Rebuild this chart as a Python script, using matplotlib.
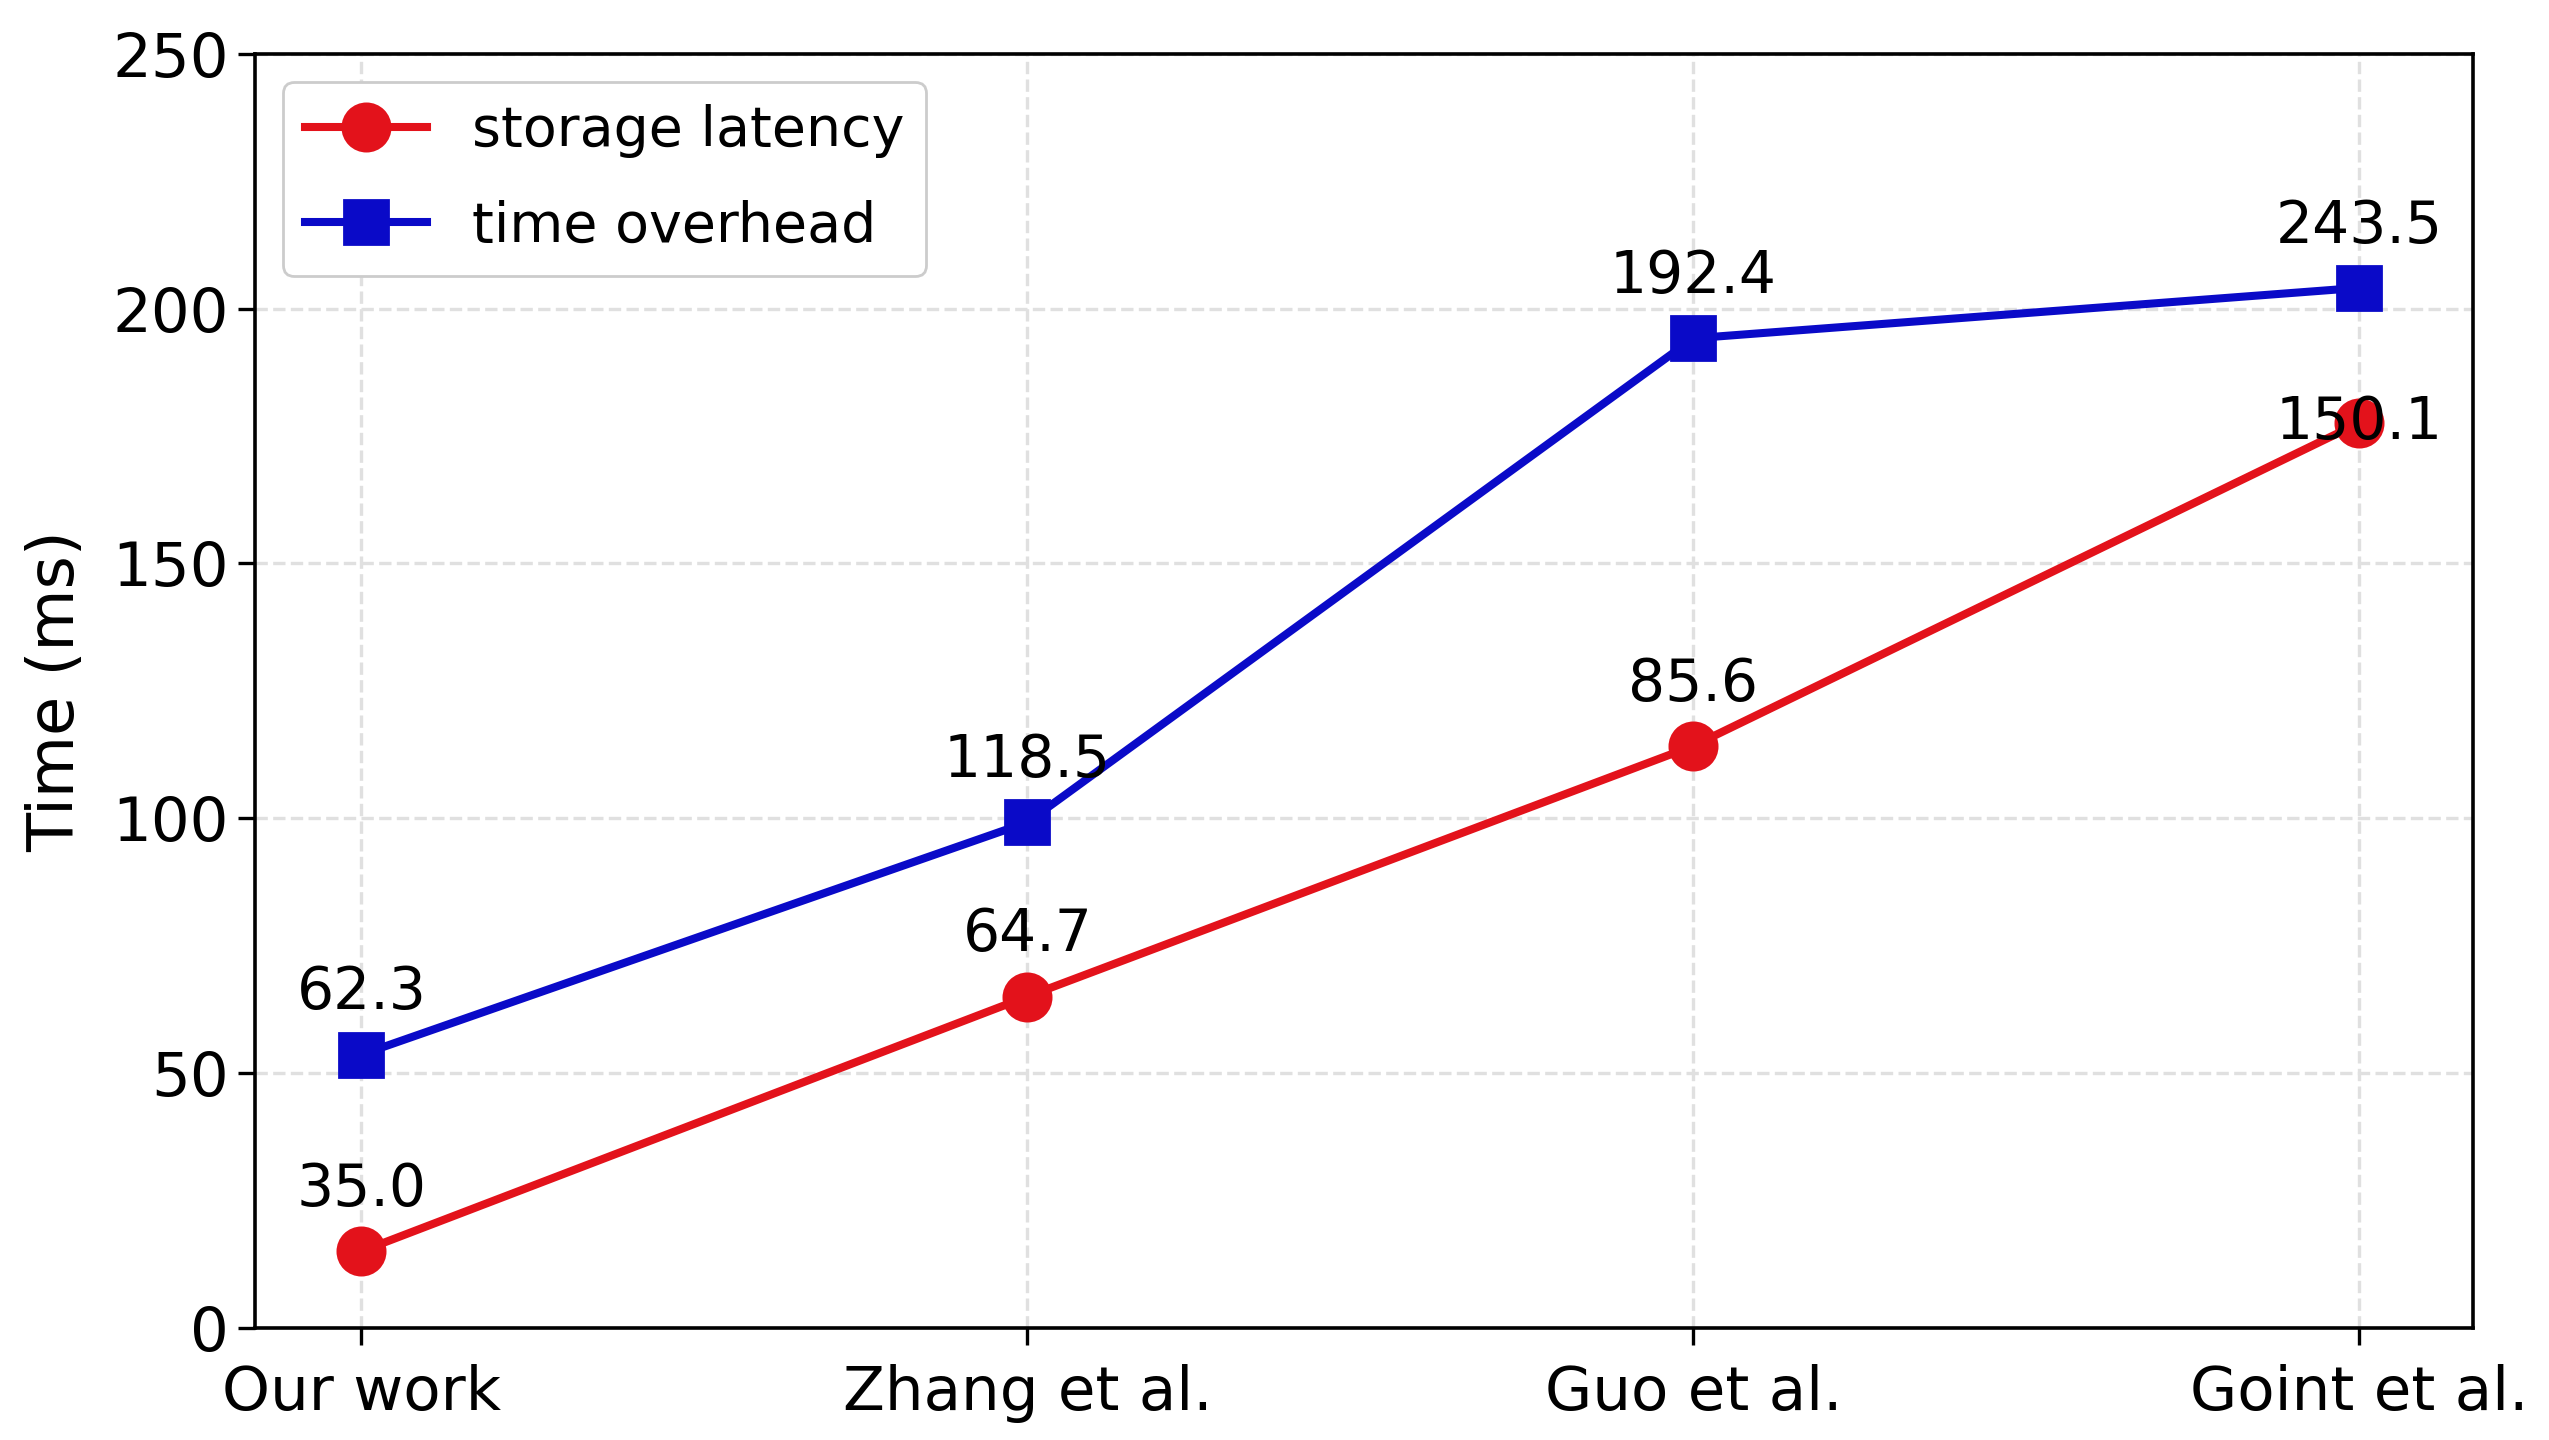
import matplotlib
matplotlib.use("Agg")
import matplotlib.pyplot as plt

categories = ["Our work", "Zhang et al.", "Guo et al.", "Goint et al."]
storage_latency = [15.0, 65.0, 114.2, 177.6]
time_overhead = [53.6, 99.2, 194.2, 204.1]
storage_labels = ["35.0", "64.7", "85.6", "150.1"]
overhead_labels = ["62.3", "118.5", "192.4", "243.5"]
yticks = [0, 50, 100, 150, 200, 250]

plt.rcParams['font.family'] = ['DejaVu Sans']

fig = plt.figure(figsize=(12.745, 7.2), dpi=200)
ax = fig.add_axes([0.100, 0.078, 0.870, 0.8845])

x = list(range(len(categories)))
red = '#e3121b'
blue = '#0a0ac8'

ax.plot(x, storage_latency, color=red, lw=2.9, marker='o', ms=17,
        label='storage latency', zorder=3)
ax.plot(x, time_overhead, color=blue, lw=2.9, marker='s', ms=16,
        label='time overhead', zorder=3)

storage_dy = [12, 12, 12, -10]
overhead_dy = [12, 12, 12, 12]
for xi, yi, t, dy in zip(x, storage_latency, storage_labels, storage_dy):
    ax.annotate(t, (xi, yi), xytext=(0, dy), textcoords='offset points',
                ha='center', va='bottom', fontsize=21, zorder=4)
for xi, yi, t, dy in zip(x, time_overhead, overhead_labels, overhead_dy):
    ax.annotate(t, (xi, yi), xytext=(0, dy), textcoords='offset points',
                ha='center', va='bottom', fontsize=21, zorder=4)

ax.set_xlim(-0.16, 3.17)
ax.set_ylim(0, 250)
ax.set_xticks(x)
ax.set_xticklabels(categories, fontsize=22)
ax.set_yticks(yticks)
ax.set_yticklabels([str(v) for v in yticks], fontsize=22)
ax.set_ylabel('Time (ms)', fontsize=23, labelpad=9)
ax.tick_params(axis='both', length=6, width=1.2)
ax.tick_params(axis='x', pad=7)

ax.grid(True, linestyle='--', color='#e0e0e0', lw=1.2)
ax.set_axisbelow(True)
for s in ax.spines.values():
    s.set_linewidth(1.3)

leg = ax.legend(loc='upper left', fontsize=20, handlelength=2.2,
                labelspacing=0.75, framealpha=1, edgecolor='#cccccc')

fig.savefig('out.png', dpi=200)
